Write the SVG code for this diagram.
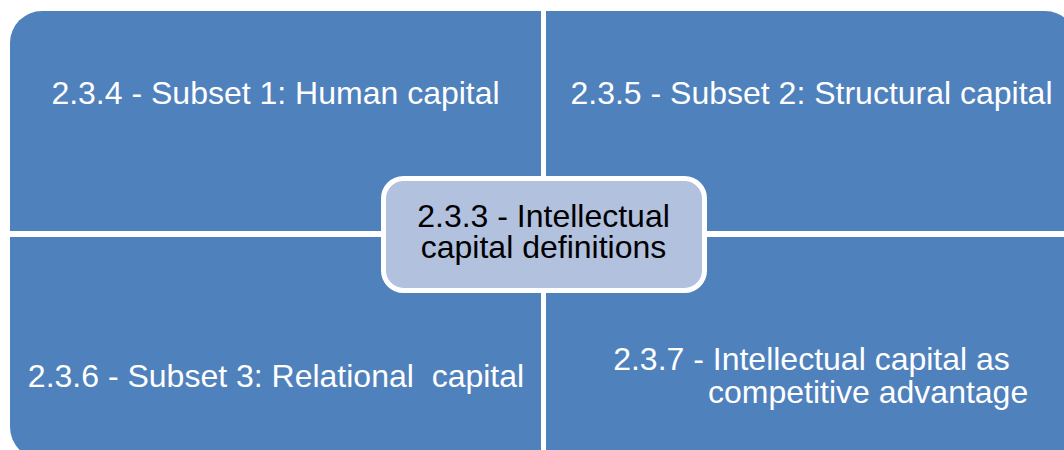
<svg xmlns="http://www.w3.org/2000/svg" width="1064" height="450" viewBox="0 0 1064 450">
  <style>
    .quad { fill: #4F81BD; }
    .qt { font-family: "Liberation Sans", Arial, sans-serif; font-size: 32px; fill: #FFFFFF; white-space: pre; }
    .ct { font-family: "Liberation Sans", Arial, sans-serif; font-size: 32px; fill: #000000; text-anchor: middle; }
    .center { fill: #B2C1DE; stroke: #FFFFFF; stroke-width: 5; }
  </style>
  <rect width="1064" height="450" fill="#FFFFFF"/>
  <g id="connectors"></g>
  <g id="node-234">
    <path class="quad" d="M10,231 L10,43 A32,32 0 0 1 42,11 L541,11 L541,231 Z"/>
    <text class="qt" x="275.5" y="104" text-anchor="middle">2.3.4 - Subset 1: Human capital</text>
  </g>
  <g id="node-235">
    <path class="quad" d="M546,11 L1045,11 A32,32 0 0 1 1077,43 L1077,231 L546,231 Z"/>
    <text class="qt" x="811.5" y="104" text-anchor="middle">2.3.5 - Subset 2: Structural capital</text>
  </g>
  <g id="node-236">
    <path class="quad" d="M10,237 L541,237 L541,459 L42,459 A32,32 0 0 1 10,427 Z"/>
    <text class="qt" x="276" y="387" text-anchor="middle" xml:space="preserve">2.3.6 - Subset 3: Relational  capital</text>
  </g>
  <g id="node-237">
    <path class="quad" d="M546,237 L1077,237 L1077,427 A32,32 0 0 1 1045,459 L546,459 Z"/>
    <text class="qt" x="811.5" y="370" text-anchor="middle">2.3.7 - Intellectual capital as</text>
    <text class="qt" x="708" y="403">competitive advantage</text>
  </g>
  <g id="node-233">
    <rect class="center" x="383.5" y="178.5" width="321" height="112" rx="20" ry="20"/>
    <text class="ct" x="543.5" y="227">2.3.3 - Intellectual</text>
    <text class="ct" x="543.5" y="258">capital definitions</text>
  </g>
</svg>
